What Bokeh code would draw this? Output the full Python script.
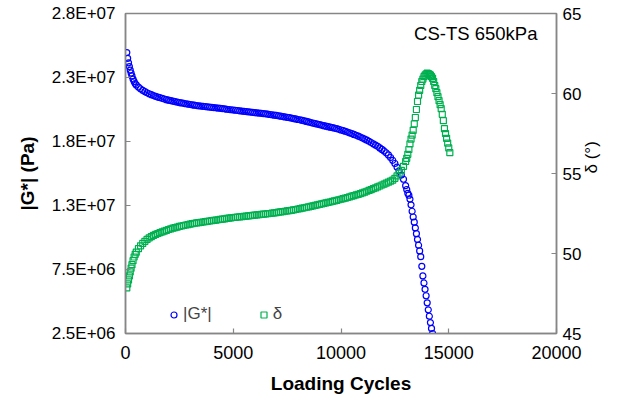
import numpy as np
from bokeh.plotting import figure
from bokeh.models import (Range1d, LinearAxis, FixedTicker, Legend, LegendItem, Label)
from bokeh.embed import file_html
from bokeh.resources import INLINE

# ---- data ----
g_cycles = [60, 100, 140, 180, 220, 260, 300, 350, 400, 450, 500, 600, 700, 800, 900, 1000,
            1100, 1200, 1300, 1400, 1500, 1600, 1700, 1800, 1900, 2000, 2100, 2200, 2300, 2400,
            2500, 2600, 2700, 2800, 2900, 3000, 3100, 3200, 3300, 3400, 3500, 3600, 3700, 3800,
            3900, 4000, 4100, 4200, 4300, 4400, 4500, 4600, 4700, 4800, 4900, 5000, 5100, 5200,
            5300, 5400, 5500, 5600, 5700, 5800, 5900, 6000, 6100, 6200, 6300, 6400, 6500, 6600,
            6700, 6800, 6900, 7000, 7100, 7200, 7300, 7400, 7500, 7600, 7700, 7800, 7900, 8000,
            8100, 8200, 8300, 8400, 8500, 8600, 8700, 8800, 8900, 9000, 9100, 9200, 9300, 9400,
            9500, 9600, 9700, 9800, 9900, 10000, 10100, 10200, 10300, 10400, 10500, 10600, 10700,
            10800, 10900, 11000, 11100, 11200, 11300, 11400, 11500, 11600, 11700, 11800, 11900,
            12000, 12100, 12200, 12300, 12400, 12500, 12600, 12700, 12800, 12900, 13000, 13050,
            13100, 13150, 13200, 13250, 13300, 13350, 13400, 13450, 13500, 13550, 13600, 13650,
            13700, 13750, 13800, 13850, 13900, 13950, 14000, 14050, 14100, 14150, 14200, 14250]
g_mpa = [24.45, 24.0, 23.65, 23.35, 23.08, 22.85, 22.62, 22.38, 22.18, 22.03, 21.92, 21.75,
         21.62, 21.50, 21.40, 21.31, 21.23, 21.16, 21.09, 21.03, 20.97, 20.92, 20.87, 20.82,
         20.77, 20.73, 20.69, 20.65, 20.61, 20.58, 20.54, 20.51, 20.48, 20.45, 20.42, 20.39,
         20.36, 20.34, 20.31, 20.29, 20.27, 20.25, 20.23, 20.21, 20.19, 20.17, 20.15, 20.13,
         20.11, 20.09, 20.07, 20.05, 20.02, 20.00, 19.98, 19.96, 19.94, 19.92, 19.90, 19.88,
         19.86, 19.84, 19.82, 19.80, 19.78, 19.76, 19.74, 19.72, 19.70, 19.68, 19.66, 19.64,
         19.61, 19.59, 19.56, 19.54, 19.51, 19.48, 19.45, 19.42, 19.39, 19.36, 19.33, 19.29,
         19.26, 19.22, 19.19, 19.15, 19.11, 19.07, 19.03, 18.98, 18.94, 18.90, 18.86, 18.82,
         18.78, 18.74, 18.70, 18.66, 18.62, 18.58, 18.54, 18.50, 18.45, 18.40, 18.35, 18.30,
         18.24, 18.18, 18.12, 18.05, 17.99, 17.92, 17.85, 17.77, 17.69, 17.60, 17.51, 17.42,
         17.32, 17.22, 17.12, 17.00, 16.88, 16.76, 16.62, 16.45, 16.25, 16.03, 15.78, 15.50,
         15.20, 14.88, 14.55, 14.05, 13.75, 13.45, 13.3, 13.0, 12.55, 12.05, 11.6, 11.2, 10.75,
         10.3, 9.85, 9.4, 8.95, 8.5, 7.75, 7.0, 6.45, 5.95, 5.45, 4.9, 4.35, 3.85, 3.35, 2.9, 2.5]

d_cycles = [60, 100, 140, 180, 220, 260, 300, 350, 400, 450, 500, 600, 700, 800, 900, 1000,
            1100, 1200, 1300, 1400, 1500, 1600, 1700, 1800, 1900, 2000, 2100, 2200, 2300, 2400,
            2500, 2600, 2700, 2800, 2900, 3000, 3100, 3200, 3300, 3400, 3500, 3600, 3700, 3800,
            3900, 4000, 4100, 4200, 4300, 4400, 4500, 4600, 4700, 4800, 4900, 5000, 5100, 5200,
            5300, 5400, 5500, 5600, 5700, 5800, 5900, 6000, 6100, 6200, 6300, 6400, 6500, 6600,
            6700, 6800, 6900, 7000, 7100, 7200, 7300, 7400, 7500, 7600, 7700, 7800, 7900, 8000,
            8100, 8200, 8300, 8400, 8500, 8600, 8700, 8800, 8900, 9000, 9100, 9200, 9300, 9400,
            9500, 9600, 9700, 9800, 9900, 10000, 10100, 10200, 10300, 10400, 10500, 10600, 10700,
            10800, 10900, 11000, 11100, 11200, 11300, 11400, 11500, 11600, 11700, 11800, 11900,
            12000, 12100, 12200, 12300, 12400, 12500, 12600, 12700, 12800, 12900, 13000, 13050,
            13100, 13150, 13200, 13250, 13300, 13350, 13400, 13450, 13500, 13550, 13600, 13650,
            13700, 13750, 13800, 13850, 13900, 13950, 14000, 14050, 14100, 14150, 14200, 14250,
            14300, 14350, 14400, 14450, 14500, 14550, 14600, 14650, 14700, 14750, 14800, 14850,
            14900, 14950, 15000, 15050]
d_deg = [47.85, 48.1, 48.35, 48.6, 48.85, 49.08, 49.3, 49.55, 49.78, 49.95, 50.08, 50.3, 50.48,
         50.63, 50.76, 50.88, 50.98, 51.06, 51.13, 51.19, 51.25, 51.3, 51.35, 51.4, 51.45, 51.5,
         51.54, 51.58, 51.62, 51.65, 51.69, 51.72, 51.75, 51.78, 51.81, 51.84, 51.87, 51.89,
         51.91, 51.93, 51.95, 51.97, 51.99, 52.01, 52.03, 52.05, 52.07, 52.09, 52.11, 52.13,
         52.15, 52.17, 52.19, 52.21, 52.23, 52.25, 52.26, 52.28, 52.29, 52.31, 52.32, 52.34,
         52.35, 52.37, 52.38, 52.4, 52.41, 52.43, 52.44, 52.46, 52.47, 52.49, 52.5, 52.52,
         52.54, 52.56, 52.58, 52.6, 52.62, 52.64, 52.66, 52.68, 52.7, 52.73, 52.75, 52.78,
         52.8, 52.83, 52.86, 52.89, 52.92, 52.95, 52.98, 53.01, 53.04, 53.07, 53.1, 53.13,
         53.16, 53.19, 53.22, 53.26, 53.29, 53.32, 53.36, 53.39, 53.43, 53.46, 53.5, 53.54,
         53.58, 53.62, 53.66, 53.7, 53.74, 53.79, 53.84, 53.89, 53.94, 53.99, 54.05, 54.1,
         54.16, 54.22, 54.28, 54.34, 54.4, 54.46, 54.52, 54.58, 54.7, 54.85, 55.02, 55.2,
         55.45, 55.75, 55.95, 56.2, 56.5, 56.85, 57.15, 57.4, 57.7, 58.1, 58.5, 59.0, 59.5,
         59.9, 60.2, 60.5, 60.75, 60.9, 61.05, 61.15, 61.22, 61.27, 61.25, 61.2, 61.15, 61.05,
         60.95, 60.75, 60.5, 60.3, 60.05, 59.8, 59.55, 59.3, 59.05, 58.7, 58.3, 57.8, 57.5,
         57.2, 56.9, 56.6, 56.3]

g_ticks = [2.5e6, 7.5e6, 12.5e6, 17.5e6, 22.5e6, 27.5e6]
g_tick_labels = ["2.5E+06", "7.5E+06", "1.3E+07", "1.8E+07", "2.3E+07", "2.8E+07"]
d_ticks = [45, 50, 55, 60, 65]
x_ticks = [0, 5000, 10000, 15000, 20000]

FONT = "Liberation Sans"
AXIS_COLOR = "#868686"
BLUE = "#0000FF"
GREEN = "#00B050"

p = figure(width=627, height=397, output_backend="svg", toolbar_location=None,
           x_range=Range1d(0, 20000), y_range=Range1d(2.5e6, 2.75e7),
           min_border_left=125, min_border_right=71, min_border_top=13, min_border_bottom=64)
p.extra_y_ranges = {"delta": Range1d(45, 65)}
p.grid.visible = False
p.outline_line_color = AXIS_COLOR
p.outline_line_width = 1.5

g_r = p.scatter(g_cycles, np.array(g_mpa) * 1e6, marker="circle", size=6, fill_color=None,
                line_color=BLUE, line_width=1.2)
d_r = p.scatter(d_cycles, d_deg, marker="square", size=6, fill_color=None,
                line_color=GREEN, line_width=1.2, y_range_name="delta")

right = LinearAxis(y_range_name="delta")
p.add_layout(right, "right")

for ax in [p.xaxis[0], p.yaxis[0], right]:
    ax.axis_line_color = AXIS_COLOR
    ax.axis_line_width = 1.5
    ax.major_tick_line_color = AXIS_COLOR
    ax.major_tick_line_width = 1.2
    ax.major_tick_in = 5
    ax.major_tick_out = 0
    ax.minor_tick_line_color = None
    ax.major_label_text_font = FONT
    ax.major_label_text_font_size = "17px"
    ax.major_label_text_color = "black"
    ax.axis_label_text_font = FONT
    ax.axis_label_text_color = "black"

p.xaxis[0].ticker = FixedTicker(ticks=x_ticks)
p.xaxis[0].major_label_text_font_size = "18px"
p.xaxis[0].major_label_standoff = 12
p.xaxis[0].axis_label = "Loading Cycles"
p.xaxis[0].axis_label_text_font_size = "19px"
p.xaxis[0].axis_label_text_font_style = "bold"
p.xaxis[0].axis_label_standoff = 11

p.yaxis[0].ticker = FixedTicker(ticks=g_ticks)
p.yaxis[0].major_label_overrides = {t: s for t, s in zip(g_ticks, g_tick_labels)}
p.yaxis[0].major_label_text_font_size = "17px"
p.yaxis[0].major_label_standoff = 10
p.yaxis[0].axis_label = "|G*| (Pa)"
p.yaxis[0].axis_label_text_font_size = "19px"
p.yaxis[0].axis_label_text_font_style = "bold"
p.yaxis[0].axis_label_standoff = 11

right.ticker = FixedTicker(ticks=d_ticks)
right.major_label_standoff = 6
right.axis_label = "δ (°)"
right.axis_label_text_font_size = "17px"
right.axis_label_text_font_style = "normal"
right.axis_label_standoff = 7
right.axis_label_text_align = "center"
try:
    right.axis_label_orientation = np.pi / 2
except AttributeError:
    pass

legend = Legend(items=[LegendItem(label="|G*|", renderers=[g_r]),
                       LegendItem(label="δ", renderers=[d_r])],
                location=(41, 9), orientation="horizontal",
                glyph_width=15, glyph_height=15, label_standoff=2, spacing=44,
                padding=0, margin=0, border_line_alpha=0, background_fill_alpha=0,
                label_text_font=FONT, label_text_font_size="17px", label_height=15)
p.add_layout(legend, "center")

p.add_layout(Label(x=412, y=311, x_units="screen", y_units="screen", text="CS-TS 650kPa",
                   text_font=FONT, text_font_size="18.5px", text_align="right",
                   text_baseline="top", text_color="black"))

open("out.html", "w").write(file_html(p, INLINE))
